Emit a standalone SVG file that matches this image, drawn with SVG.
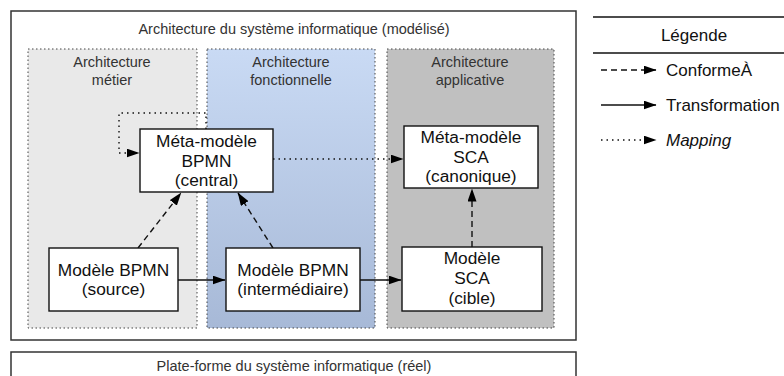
<svg xmlns="http://www.w3.org/2000/svg" width="784" height="376" viewBox="0 0 784 376">
<style>
text{font-family:"Liberation Sans",Arial,Helvetica,sans-serif;fill:#222}
.hdr{font-size:14.5px;text-anchor:middle;fill:#333}
.node rect{fill:#fff;stroke:#111;stroke-width:1.4}
.node text{font-size:17.3px;text-anchor:middle;fill:#111}
.lane{stroke:#444;stroke-width:1;stroke-dasharray:1.5 2.5}
.solid{fill:none;stroke:#111;stroke-width:1.4;marker-end:url(#ah)}
.dash{fill:none;stroke:#111;stroke-width:1.4;stroke-dasharray:6 4;marker-end:url(#ah)}
.dot{fill:none;stroke:#111;stroke-width:1.4;stroke-dasharray:1.5 4;marker-end:url(#ah)}
.leg{font-size:17px;fill:#111}
</style>
<defs>
<marker id="ah" markerWidth="13" markerHeight="9" refX="12.5" refY="4.5" orient="auto" markerUnits="userSpaceOnUse">
<path d="M0,0 L13,4.5 L0,9 Z" fill="#000"/>
</marker>
<linearGradient id="blue" x1="0" y1="0" x2="0" y2="1">
<stop offset="0" stop-color="#c9daf4"/>
<stop offset="1" stop-color="#a7b9d7"/>
</linearGradient>
</defs>
<g id="systeme-modelise">
<rect x="11" y="11" width="565" height="329" fill="#fff" stroke="#333" stroke-width="1.5"/>
<text class="hdr" x="294" y="34">Architecture du système informatique (modélisé)</text>
</g>
<g id="lane-metier">
<rect class="lane" x="28" y="49" width="169" height="279" fill="#e9e9e9"/>
<text class="hdr" x="112" y="67">Architecture</text>
<text class="hdr" x="112" y="85">métier</text>
</g>
<g id="lane-fonctionnelle">
<rect class="lane" x="207" y="49" width="168" height="279" fill="url(#blue)"/>
<text class="hdr" x="291" y="67">Architecture</text>
<text class="hdr" x="291" y="85">fonctionnelle</text>
</g>
<g id="lane-applicative">
<rect class="lane" x="387" y="49" width="167" height="279" fill="#c0c0c0"/>
<text class="hdr" x="470" y="67">Architecture</text>
<text class="hdr" x="470" y="85">applicative</text>
</g>
<g id="plateforme">
<rect x="11" y="352" width="565" height="40" fill="#fff" stroke="#333" stroke-width="1.5"/>
<text class="hdr" x="294" y="371">Plate-forme du système informatique (réel)</text>
</g>
<g id="connectors">
<path class="dot" d="M206,129 V113 H119 V153 H139"/>
<path class="dot" d="M273,159 H403"/>
<path class="dash" d="M138,248 L181,193"/>
<path class="dash" d="M273,248 L238,193"/>
<path class="dash" d="M472,247 V189"/>
<path class="solid" d="M178,280 H225"/>
<path class="solid" d="M360,280 H401"/>
</g>
<g id="meta-bpmn" class="node">
<rect x="140" y="129" width="133" height="63"/>
<text x="206.5" y="147">Méta-modèle</text>
<text x="206.5" y="167">BPMN</text>
<text x="206.5" y="186">(central)</text>
</g>
<g id="meta-sca" class="node">
<rect x="404" y="126" width="134" height="62"/>
<text x="471" y="143">Méta-modèle</text>
<text x="471" y="163">SCA</text>
<text x="471" y="182">(canonique)</text>
</g>
<g id="modele-bpmn-source" class="node">
<rect x="49" y="248" width="129" height="63"/>
<text x="113.5" y="276">Modèle BPMN</text>
<text x="113.5" y="295">(source)</text>
</g>
<g id="modele-bpmn-intermediaire" class="node">
<rect x="226" y="248" width="134" height="63"/>
<text x="293" y="276">Modèle BPMN</text>
<text x="293" y="295">(intermédiaire)</text>
</g>
<g id="modele-sca-cible" class="node">
<rect x="402" y="247" width="140" height="64"/>
<text x="472" y="264">Modèle</text>
<text x="472" y="284">SCA</text>
<text x="472" y="304">(cible)</text>
</g>
<g id="legende">
<line x1="593" y1="17" x2="784" y2="17" stroke="#111" stroke-width="1.4"/>
<text class="leg" x="694" y="41" text-anchor="middle">Légende</text>
<line x1="593" y1="53" x2="784" y2="53" stroke="#111" stroke-width="1.4"/>
<path class="dash" d="M601,70 H656"/>
<text class="leg" x="666" y="76">ConformeÀ</text>
<path class="solid" d="M601,105 H656"/>
<text class="leg" x="666" y="111">Transformation</text>
<path class="dot" d="M601,140 H656"/>
<text class="leg" x="666" y="146" font-style="italic">Mapping</text>
</g>
</svg>
